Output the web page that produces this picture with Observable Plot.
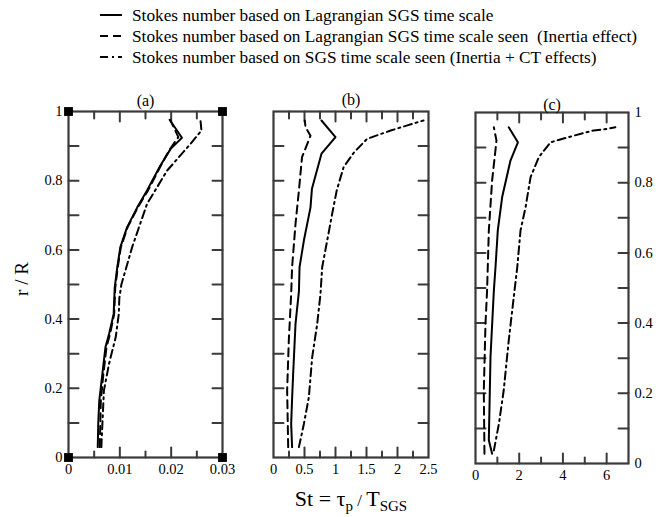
<!DOCTYPE html>
<html><head><meta charset="utf-8">
<script src="https://cdn.jsdelivr.net/npm/d3@7"></script>
<script src="https://cdn.jsdelivr.net/npm/@observablehq/plot@0.6"></script>
<style>
body{margin:0;background:#fff;}
#root{position:relative;width:666px;height:517px;font-family:"Liberation Serif",serif;color:#000;overflow:hidden;background:#fff}
.abs{position:absolute}
</style></head><body><div id="root"></div>
<script>
// Legend entries
const seriesNames = [
  "Stokes number based on Lagrangian SGS time scale",
  "Stokes number based on Lagrangian SGS time scale seen  (Inertia effect)",
  "Stokes number based on SGS time scale seen (Inertia + CT effects)"
];
const panelTitles = ["(a)", "(b)", "(c)"];

// Panel (a): [St, r/R]
const aSolid = [[0.0057,0.03],[0.0058,0.10],[0.0060,0.165],[0.0066,0.242],[0.0072,0.319],[0.0079,0.357],[0.0088,0.415],[0.0090,0.49],[0.0095,0.55],[0.0101,0.608],[0.0114,0.665],[0.0134,0.723],[0.0153,0.772],[0.0179,0.844],[0.0199,0.892],[0.0221,0.924],[0.0197,0.976]];
const aDashed = [[0.0061,0.03],[0.0062,0.10],[0.0063,0.165],[0.0068,0.242],[0.0074,0.319],[0.0081,0.357],[0.0089,0.415],[0.0091,0.49],[0.0096,0.55],[0.0102,0.608],[0.0115,0.665],[0.0135,0.723],[0.0155,0.772],[0.0180,0.844],[0.0198,0.892],[0.0214,0.926],[0.0198,0.976]];
const aDashDot = [[0.0064,0.03],[0.0066,0.097],[0.0069,0.194],[0.0079,0.271],[0.0092,0.348],[0.0098,0.415],[0.0099,0.46],[0.0103,0.50],[0.0124,0.608],[0.0153,0.733],[0.0192,0.829],[0.0238,0.907],[0.0259,0.945],[0.0257,0.976]];
const aCorners = [[0,0],[0.03,0],[0,1],[0.03,1]];

// Panel (b)
const bSolid = [[0.30,0.03],[0.285,0.097],[0.30,0.17],[0.317,0.242],[0.335,0.31],[0.355,0.386],[0.41,0.48],[0.42,0.55],[0.49,0.627],[0.597,0.723],[0.62,0.777],[0.774,0.878],[1.0,0.926],[0.774,0.974]];
const bDashed = [[0.237,0.03],[0.22,0.194],[0.247,0.338],[0.285,0.473],[0.30,0.55],[0.355,0.675],[0.41,0.772],[0.46,0.868],[0.597,0.93],[0.516,0.955],[0.505,0.974]];
const bDashDot = [[0.41,0.03],[0.49,0.097],[0.57,0.174],[0.624,0.29],[0.705,0.386],[0.758,0.473],[0.785,0.55],[0.866,0.627],[0.946,0.704],[1.02,0.772],[1.13,0.839],[1.30,0.882],[1.51,0.921],[1.89,0.945],[2.16,0.96],[2.42,0.974]];

// Panel (c)
const cSolid = [[0.76,0.028],[0.61,0.066],[0.686,0.303],[0.84,0.493],[0.915,0.559],[1.02,0.664],[1.22,0.759],[1.60,0.863],[1.94,0.915],[1.52,0.958]];
const cDashed = [[0.41,0.028],[0.38,0.208],[0.457,0.398],[0.53,0.493],[0.61,0.664],[0.76,0.806],[0.96,0.92],[0.84,0.958]];
const cDashDot = [[0.84,0.037],[1.07,0.113],[1.29,0.208],[1.52,0.35],[1.75,0.474],[1.91,0.559],[2.06,0.664],[2.29,0.73],[2.52,0.816],[2.90,0.873],[3.43,0.915],[4.50,0.934],[5.41,0.949],[6.02,0.953],[6.4,0.958]];

// Ticks
const yMajor = [0.1,0.2,0.3,0.4,0.5,0.6,0.7,0.8,0.9];
const yLabels = [0,0.2,0.4,0.6,0.8,1];
const aXLabels = [0,0.01,0.02,0.03];
const aXMinor = [0.005,0.015,0.025];
const bXLabels = [0,0.5,1,1.5,2,2.5];
const bXMinor = [0.25,0.75,1.25,1.75,2.25];
const cXLabels = [0,2,4,6];
const cXMinor = [1,3,5,7];

const root = document.getElementById("root");
const dashes = [null, "8,5", "8,4,2,4"];
const axisColor = "#3a3a3a";
const tickShape = {draw(ctx, l) { ctx.moveTo(0, 0); ctx.lineTo(0, -l); }};

function ticksX(values, side, len) {
  return Plot.vectorX(values, {x: d => d, frameAnchor: side, rotate: side === "bottom" ? 0 : 180,
    length: len, anchor: "start", shape: tickShape, stroke: axisColor, strokeWidth: 2});
}
function ticksY(values, side, len) {
  return Plot.vectorY(values, {y: d => d, frameAnchor: side, rotate: side === "left" ? 90 : -90,
    length: len, anchor: "start", shape: tickShape, stroke: axisColor, strokeWidth: 2});
}

function panel(o) {
  const mt = 30, mb = 30;
  const W = o.ml + o.fw + o.mr, H = mt + o.fh + mb;
  const xMaj = o.xLabels.filter(v => v > o.xDomain[0] && v < o.xDomain[1]);
  const xMin = o.xMinor.filter(v => v > o.xDomain[0] && v < o.xDomain[1]);
  const marks = [
    ticksX(xMaj, "bottom", 10), ticksX(xMin, "bottom", 6),
    ticksX(xMaj, "top", 10), ticksX(xMin, "top", 7),
    ticksY(yMajor, "left", 10), ticksY(yMajor, "right", 10),
    Plot.axisX({anchor: "bottom", ticks: o.xLabels, tickSize: 0, tickPadding: 6, label: null, tickFormat: d3.format("~g")}),
    Plot.frame({stroke: axisColor, strokeWidth: 2.2}),
    Plot.text([o.title], {text: d => d, frameAnchor: "top", dy: o.titleDy, fontSize: 16})
  ];
  if (o.yAxis) marks.push(Plot.axisY({anchor: o.yAxis, ticks: yLabels, tickSize: 0, tickPadding: 6, label: null, tickFormat: d3.format("~g")}));
  o.series.forEach((s, i) => marks.push(Plot.line(s, {x: d => d[0], y: d => d[1], stroke: "black", strokeWidth: 2, strokeDasharray: dashes[i]})));
  if (o.corners) marks.push(Plot.dot(o.corners, {x: d => d[0], y: d => d[1], symbol: "square", r: 5, fill: "black"}));
  const svg = Plot.plot({
    width: W, height: H,
    marginLeft: o.ml, marginRight: o.mr, marginTop: mt, marginBottom: mb,
    x: {domain: o.xDomain, axis: null},
    y: {domain: [0, 1], axis: null},
    style: {fontFamily: "'Liberation Serif', serif", fontSize: "14.5px", color: "black", background: "transparent", overflow: "visible"},
    marks
  });
  svg.classList.add("abs");
  svg.style.left = (o.fx - o.ml) + "px";
  svg.style.top = (o.fy - mt) + "px";
  root.appendChild(svg);
}

panel({title: panelTitles[0], titleDy: -17, fx: 68, fy: 111, fw: 154, fh: 346, ml: 40, mr: 10,
  xDomain: [0, 0.03], xLabels: aXLabels, xMinor: aXMinor, yAxis: "left",
  series: [aSolid, aDashed, aDashDot], corners: aCorners});
panel({title: panelTitles[1], titleDy: -18, fx: 273, fy: 111, fw: 155, fh: 346, ml: 20, mr: 10,
  xDomain: [0, 2.5], xLabels: bXLabels, xMinor: bXMinor, yAxis: null,
  series: [bSolid, bDashed, bDashDot]});
panel({title: panelTitles[2], titleDy: -14, fx: 475, fy: 112, fw: 153, fh: 351, ml: 10, mr: 36,
  xDomain: [0, 7], xLabels: cXLabels, xMinor: cXMinor, yAxis: "right",
  series: [cSolid, cDashed, cDashDot]});

// Overlay: legend and axis titles
const ov = d3.select(root).append("svg").attr("class", "abs").style("left", "0px").style("top", "0px")
  .style("pointer-events", "none")
  .attr("width", 666).attr("height", 517).attr("font-family", "'Liberation Serif', serif");
seriesNames.forEach((name, i) => {
  const y = 15 + i * 21;
  ov.append("line").attr("x1", 100).attr("x2", 122).attr("y1", y).attr("y2", y)
    .attr("stroke", "black").attr("stroke-width", 2).attr("stroke-dasharray", dashes[i]);
  ov.append("text").attr("x", 132).attr("y", y + 5.5).attr("font-size", 17.3)
    .style("white-space", "pre").text(name);
});

ov.append("text").attr("transform", "translate(28,279) rotate(-90)").attr("text-anchor", "middle")
  .attr("font-size", 19).style("white-space", "pre").text("r / R");

const xt = ov.append("text").attr("x", 351).attr("y", 506).attr("text-anchor", "middle").attr("font-size", 22);
xt.append("tspan").text("St = τ");
xt.append("tspan").attr("font-size", 15).attr("dy", 5).text("p");
xt.append("tspan").attr("font-size", 17).attr("dy", -5).style("white-space", "pre").text(" / ");
xt.append("tspan").text("T");
xt.append("tspan").attr("font-size", 15).attr("dy", 5).text("SGS");
</script>
</body></html>
